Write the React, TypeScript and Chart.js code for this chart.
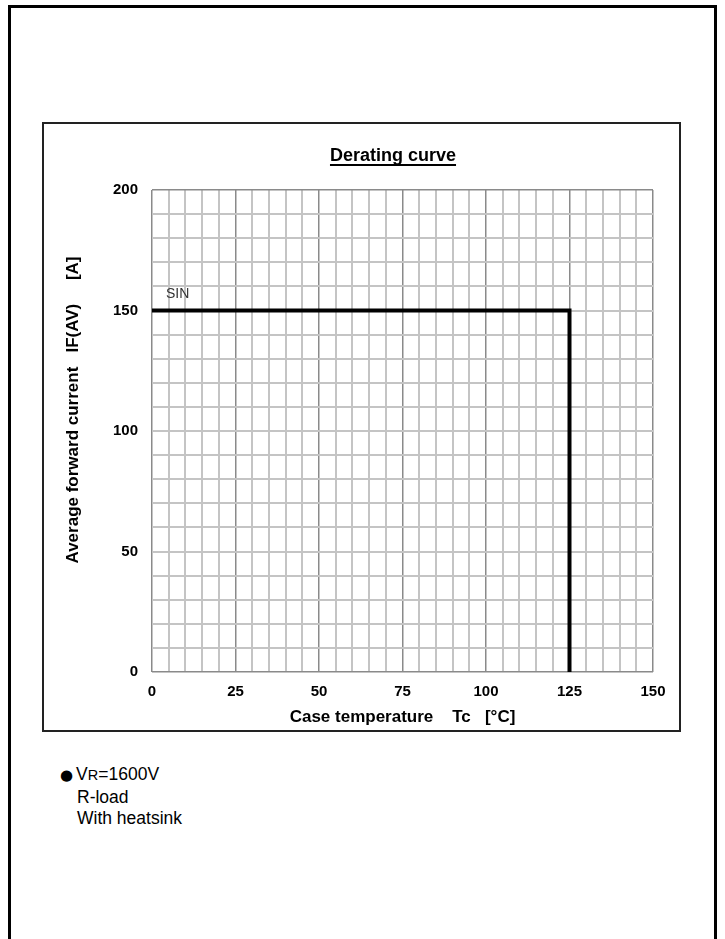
import React, { useEffect, useRef } from 'react';
import { Chart, registerables } from 'chart.js';

Chart.register(...registerables);

// ---- data ----
const caseTemp = [0, 125, 125];
const forwardCurrent = [150, 150, 0];
const xTickLabels = [0, 25, 50, 75, 100, 125, 150];
const yTickLabels = [0, 50, 100, 150, 200];
const seriesLabel = 'SIN';
const chartTitle = 'Derating curve';
const xTitle = 'Case temperature    Tc   [°C]';
const yTitle = 'Average forward current   IF(AV)     [A]';
const noteLines = ['R-load', 'With heatsink'];

const FONT = '"Liberation Sans", Arial, Helvetica, sans-serif';

const textPlugin = {
  id: 'extraText',
  afterDraw(chart: any) {
    const { ctx, chartArea, scales } = chart;
    ctx.save();
    // main title, underlined
    ctx.font = `bold 18px ${FONT}`;
    ctx.fillStyle = '#000';
    ctx.textAlign = 'center';
    ctx.textBaseline = 'alphabetic';
    const tx = chartArea.left + 241;
    const ty = chartArea.top - 29;
    ctx.fillText(chartTitle, tx, ty);
    const w = ctx.measureText(chartTitle).width;
    ctx.fillRect(tx - w / 2, ty + 3, w, 2);

    // y axis title
    ctx.save();
    ctx.translate(chartArea.left - 79, chartArea.top + 220);
    ctx.rotate(-Math.PI / 2);
    ctx.font = `bold 17px ${FONT}`;
    ctx.textAlign = 'center';
    ctx.textBaseline = 'middle';
    ctx.fillText(yTitle, 0, 0);
    ctx.restore();

    // series label
    ctx.font = `14px ${FONT}`;
    ctx.fillStyle = '#333';
    ctx.textAlign = 'left';
    ctx.textBaseline = 'middle';
    const sx = scales.x.getPixelForValue(caseTemp[0]) + 14;
    const sy = scales.y.getPixelForValue(forwardCurrent[0]) - 16;
    ctx.fillText(seriesLabel, sx, sy);
    ctx.restore();
  },
};

function ChartCanvas() {
  const ref = useRef<HTMLCanvasElement | null>(null);
  useEffect(() => {
    if (!ref.current) return;
    const points = caseTemp.map((x, i) => ({ x, y: forwardCurrent[i] }));
    const chart = new Chart(ref.current, {
      type: 'line',
      data: {
        datasets: [
          {
            label: seriesLabel,
            data: points,
            borderColor: '#000',
            borderWidth: 4,
            pointRadius: 0,
            tension: 0,
            fill: false,
            borderCapStyle: 'butt',
            borderJoinStyle: 'miter',
          },
        ],
      },
      options: {
        animation: false,
        responsive: false,
        devicePixelRatio: 1,
        events: [],
        layout: { padding: { left: 0, right: 26, top: 66, bottom: 0 } },
        plugins: {
          legend: { display: false },
          tooltip: { enabled: false },
          title: { display: false },
        },
        scales: {
          x: {
            type: 'linear',
            min: 0,
            max: 150,
            afterFit: (s: any) => {
              s.height = 58;
            },
            ticks: {
              stepSize: 5,
              autoSkip: false,
              maxRotation: 0,
              padding: 11,
              color: '#000',
              font: { family: FONT, size: 15, weight: 'bold' },
              callback: (v: any) => (xTickLabels.includes(Number(v)) ? String(v) : ''),
            },
            grid: {
              drawTicks: false,
              color: (c: any) => (c.tick && c.tick.value % 25 === 0 ? '#8a8a8a' : '#c4c4c4'),
              lineWidth: (c: any) => (c.tick && c.tick.value % 25 === 0 ? 1.5 : 2),
            },
            border: { display: false },
            title: {
              display: true,
              text: xTitle,
              color: '#000',
              font: { family: FONT, size: 17, weight: 'bold' },
              padding: { top: 0, bottom: 2 },
            },
          },
          y: {
            type: 'linear',
            min: 0,
            max: 200,
            afterFit: (s: any) => {
              s.width = 108;
            },
            ticks: {
              stepSize: 10,
              autoSkip: false,
              padding: 14,
              color: '#000',
              font: { family: FONT, size: 15, weight: 'bold' },
              callback: (v: any) => (yTickLabels.includes(Number(v)) ? String(v) : ''),
            },
            grid: {
              drawTicks: false,
              color: (c: any) =>
                c.tick && (c.tick.value === 0 || c.tick.value === 200) ? '#8a8a8a' : '#c4c4c4',
              lineWidth: (c: any) =>
                c.tick && (c.tick.value === 0 || c.tick.value === 200) ? 1.5 : 2,
            },
            border: { display: false },
          },
        },
      },
      plugins: [textPlugin],
    } as any);
    return () => chart.destroy();
  }, []);
  return (
    <canvas
      ref={ref}
      width={635}
      height={606}
      style={{ position: 'absolute', left: 44, top: 124, width: 635, height: 606 }}
    />
  );
}

export default function App() {
  return (
    <div
      style={{
        position: 'absolute',
        left: 0,
        top: 0,
        width: 725,
        height: 939,
        overflow: 'hidden',
        background: '#fff',
        fontFamily: FONT,
      }}
    >
      <div
        style={{
          position: 'absolute',
          left: 8,
          top: 5,
          width: 709,
          height: 980,
          border: '3px solid #000',
          boxSizing: 'border-box',
        }}
      />
      <div
        style={{
          position: 'absolute',
          left: 42,
          top: 122,
          width: 639,
          height: 610,
          border: '2px solid #222',
          boxSizing: 'border-box',
        }}
      />
      <ChartCanvas />
      <div
        style={{
          position: 'absolute',
          left: 60,
          top: 764,
          fontSize: 17.5,
          lineHeight: '21.5px',
          color: '#000',
          whiteSpace: 'nowrap',
        }}
      >
        <div>
          <span style={{ fontFamily: '"DejaVu Sans", sans-serif', fontSize: 15, marginRight: 3 }}>●</span>
          <span>V</span>
          <span style={{ fontSize: 14.5 }}>R</span>
          <span>=1600V</span>
        </div>
        {noteLines.map((t) => (
          <div key={t} style={{ paddingLeft: 17 }}>
            {t}
          </div>
        ))}
      </div>
    </div>
  );
}
